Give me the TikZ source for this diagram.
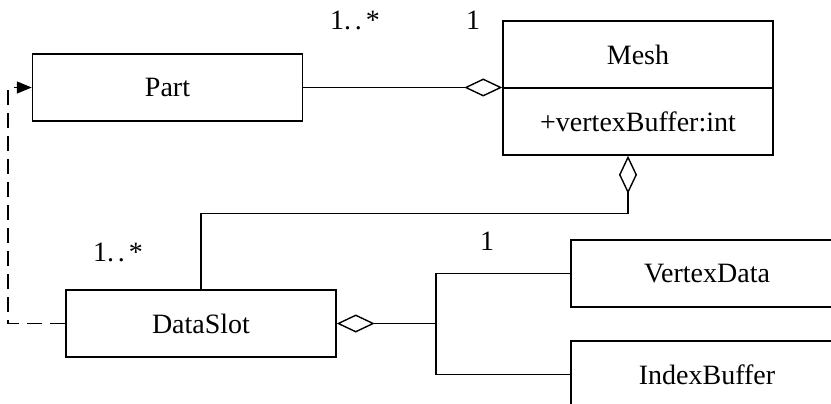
\documentclass[tikz,border=0pt]{standalone}
\usepackage{fontspec}
\setmainfont{Liberation Serif}
\usetikzlibrary{arrows.meta}
\begin{document}
\begin{tikzpicture}[x=1pt,y=-1pt,
  line width=1.5pt,
  every node/.style={font=\fontsize{28}{34}\selectfont},
  cls/.style={draw, rectangle, inner sep=0pt, minimum width=270pt, minimum height=67pt},
  aggend/.style={-{Diamond[open,length=38pt,width=18pt,line width=1.4pt]}},
  dep/.style={dashed, dash pattern=on 15pt off 8pt, -{Triangle[length=15pt,width=12pt]}},
  mult/.style={inner sep=0pt}
]
\useasboundingbox (0,0) rectangle (831,404);
\clip (0,0) rectangle (831,404);
\node[cls] (part) at (167.5,87.5) {Part};
\node[cls] (mesh) at (638,54.5) {Mesh};
\node[cls] (meshattr) at (638,121.5) {+vertexBuffer:int};
\node[cls] (dataslot) at (201,323.5) {DataSlot};
\node[cls, minimum width=272pt] (vdata) at (707,273.5) {VertexData};
\node[cls, minimum width=272pt] (ibuf) at (707,374.5) {IndexBuffer};
\coordinate (j) at (436,323.5);
\coordinate (lx) at (8,0);
% Part -- Mesh aggregation
\draw[aggend] (part.east) -- (part.east -| mesh.west);
% DataSlot -- Mesh aggregation
\draw[aggend] (dataslot.north) -- ++(0,-76) -| ([xshift=-10pt]meshattr.south);
% VertexData / IndexBuffer -- DataSlot aggregation
\draw[aggend] (j) -- (dataslot.east);
\draw (vdata.west) -- (vdata.west -| j) -- (ibuf.west -| j) -- (ibuf.west);
% dependency DataSlot -> Part
\draw[dep] (dataslot.west) -- (dataslot.west -| lx) -- (part.west -| lx) -- (part.west);
% multiplicities
\node[mult] (m1) at (355,20) {1.\kern4pt.\kern4pt*};
\node[mult] (m2) at (473,20) {1};
\node[mult] (m3) at (118,252) {1.\kern4pt.\kern4pt*};
\node[mult] (m4) at (487,241) {1};
\end{tikzpicture}
\end{document}
